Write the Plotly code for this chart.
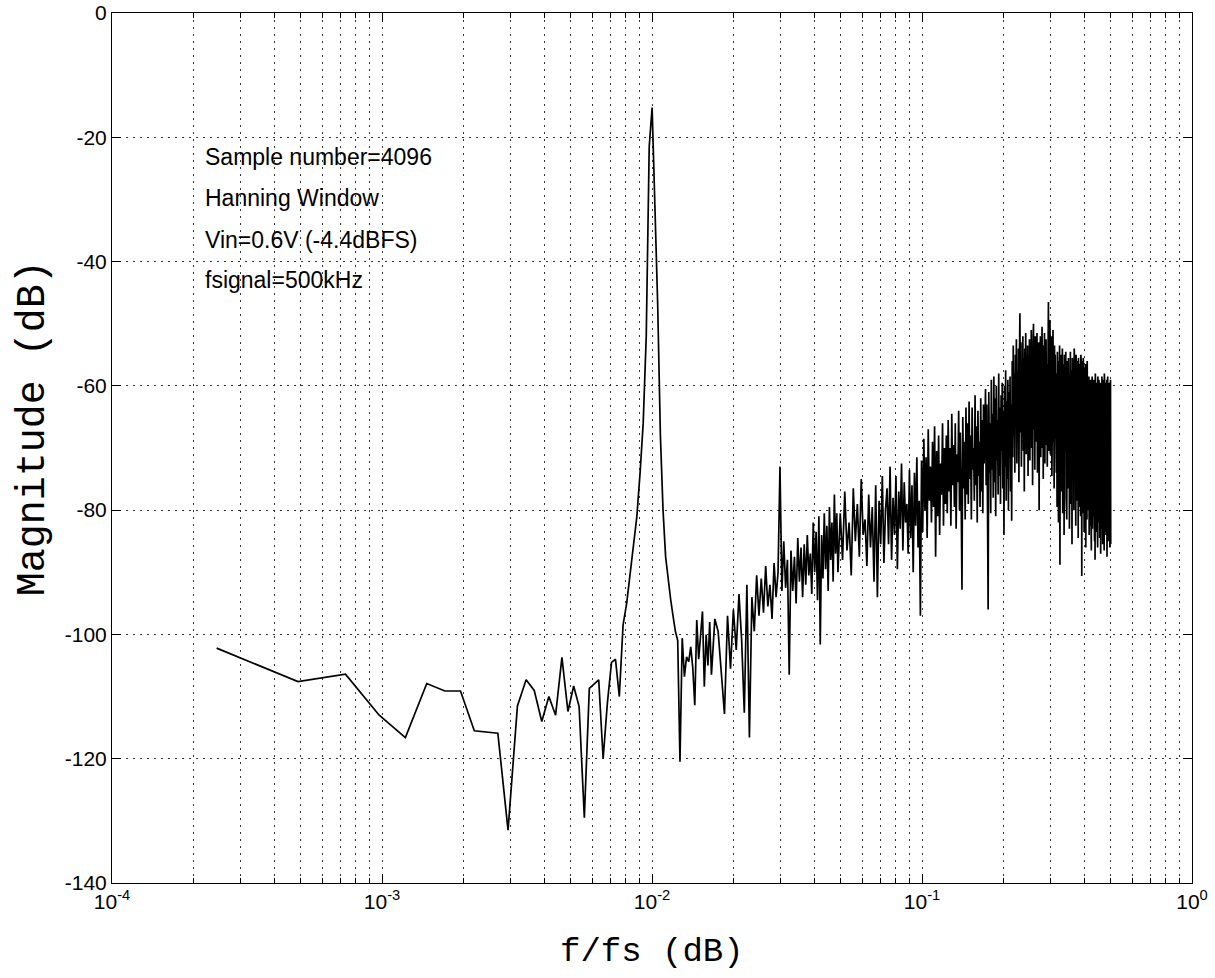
import plotly.graph_objects as go

# ---------------- data ----------------
n_fft = 4096  # sample number

# FFT bin indices (k) of the plotted points; f/fs = k / n_fft
bins_low = list(range(1, 71))            # every bin up to k=70
bins_mid = list(range(72, 201, 2))       # every 2nd bin 72..200
bins_high = list(range(204, 2049, 4))    # every 4th bin 204..2048

mag_low = [
    -102.2, -107.6, -106.4, -113.0, -116.6, -107.9, -109.1, -109.1, -115.5, -115.7,
    -115.9, -131.5, -111.5, -107.3, -109.0, -114.0, -110.0, -113.0, -103.7, -112.4,
    -108.3, -111.6, -129.5, -108.7, -108.0, -107.3, -120.0, -111.0, -104.5, -104.0,
    -110.0, -98.5, -95.0, -90.0, -86.0, -81.0, -74.0, -66.0, -52.0, -21.5,
    -15.2, -30.0, -47.0, -68.0, -80.0, -87.5, -91.5, -94.3, -97.0, -99.5,
    -101.0, -120.5, -100.6, -106.8, -103.6, -104.4, -102.0, -105.4, -111.4, -97.7,
    -104.0, -99.8, -96.3, -108.4, -100.0, -105.0, -98.0, -106.5, -101.0, -97.5,
]

mag_mid = [
    -99.5, -107.0, -112.8, -97.0, -105.5, -96.0, -102.5, -93.5, -101.0, -112.6,
    -92.0, -116.6, -94.0, -99.5, -90.5, -97.0, -91.0, -96.5, -89.0, -95.5,
    -92.0, -97.5, -88.5, -94.0, -90.0, -73.0, -93.0, -85.0, -92.5, -88.0,
    -106.5, -86.5, -93.0, -87.5, -95.0, -84.5, -91.5, -86.0, -94.0, -85.5,
    -92.0, -84.0, -90.5, -87.0, -93.5, -82.0, -90.0, -83.5, -94.5, -81.0,
    -101.6, -84.0, -91.0, -80.5, -89.5, -82.5, -93.0, -79.5, -88.0, -82.0,
    -91.5, -77.5, -87.0, -80.5, -90.0,
]

mag_high = [
    # k 204..300
    -80.5, -88.0, -77.0, -86.5, -82.0, -90.5, -76.5, -85.0, -79.0, -87.5,
    -75.0, -84.0, -81.5, -89.0, -77.5, -86.0, -79.5, -91.5, -76.0, -94.0,
    -78.5, -85.5, -74.5, -88.5, -80.0,
    # k 304..400
    -76.5, -85.5, -73.0, -88.0, -78.0, -84.0, -74.5, -89.5, -77.0, -83.0,
    -72.5, -86.5, -75.5, -82.0, -79.0, -87.0, -73.5, -84.5, -76.0, -90.0,
    -74.0, -82.5, -71.5, -86.0, -78.5,
    # k 404..500
    -97.0, -72.0, -83.5, -68.5, -80.0, -71.5, -84.5, -67.0, -78.5, -73.0,
    -82.0, -69.0, -79.5, -66.5, -87.5, -70.5, -81.0, -68.0, -84.0, -72.5,
    -77.5, -66.0, -82.5, -70.0, -79.0,
    # k 504..600
    -68.0, -80.5, -65.5, -77.0, -70.0, -82.5, -64.5, -76.0, -69.5, -79.5,
    -66.0, -83.0, -71.0, -75.5, -64.0, -80.0, -67.5, -78.0, -92.8, -65.0,
    -76.5, -69.0, -81.5, -63.5, -77.5,
    # k 604..700
    -66.0, -79.0, -62.5, -75.0, -68.0, -81.5, -63.5, -73.5, -70.0, -78.5,
    -61.5, -76.0, -66.5, -82.0, -64.0, -74.5, -69.0, -79.5, -62.0, -77.0,
    -65.5, -80.5, -63.0, -72.5, -67.5,
    # k 704..880
    -60.5, -76.0, -63.0, -79.5, -96.0, -61.0, -74.0, -66.0, -80.5, -59.0,
    -73.5, -64.5, -78.0, -58.5, -75.5, -62.0, -81.0, -60.0, -72.0, -65.5,
    -77.5, -58.0, -74.5, -63.5, -79.0, -61.5, -70.5, -59.5, -76.5, -64.0,
    -84.0, -60.0, -73.0, -57.5, -78.5, -62.5, -75.0, -59.0, -80.0, -61.0,
    -71.5, -58.5, -77.0, -63.0, -81.7,
    # k 884..1280
    -56.0, -71.5, -53.5, -68.0, -58.0, -74.0, -55.0, -66.5, -52.5, -72.5,
    -57.5, -69.0, -54.0, -75.5, -56.5, -48.3, -67.5, -53.0, -73.0, -58.5,
    -65.0, -52.0, -70.5, -55.5, -77.0, -54.0, -68.5, -51.5, -71.0, -57.0,
    -66.0, -53.5, -74.5, -55.0, -69.5, -52.5, -72.0, -56.5, -64.5, -51.0,
    -70.0, -54.5, -76.0, -53.0, -50.0, -67.0, -55.5, -73.5, -52.0, -69.0,
    -57.0, -65.5, -51.5, -74.0, -54.0, -68.0, -53.0, -80.0, -55.5, -66.5,
    -52.0, -71.5, -56.0, -64.0, -50.5, -70.0, -54.5, -75.0, -53.5, -67.5,
    -51.5, -72.5, -55.0, -65.0, -52.5, -69.5, -56.5, -73.0, -53.0, -66.0,
    -46.5, -70.5, -54.0, -63.5, -49.4, -71.0, -55.5, -67.0, -52.0, -74.5,
    -54.5, -65.5, -51.0, -69.0, -56.0, -76.5, -53.5, -68.5, -55.0, -72.0,
    # k 1284..1680
    -55.5, -74.0, -58.0, -79.5, -54.5, -71.0, -57.0, -82.0, -56.0, -70.0,
    -53.5, -88.8, -58.5, -73.5, -55.0, -77.0, -57.5, -69.5, -54.0, -80.5,
    -59.0, -72.0, -56.5, -84.0, -55.0, -75.5, -58.0, -70.5, -54.5, -78.0,
    -57.5, -81.5, -56.0, -73.0, -59.5, -76.5, -55.5, -69.0, -58.5, -83.0,
    -56.0, -74.5, -54.5, -79.0, -57.5, -71.5, -59.0, -85.5, -55.5, -76.0,
    -58.0, -72.5, -56.5, -80.0, -54.0, -77.5, -57.0, -70.0, -59.5, -82.5,
    -55.0, -75.0, -58.5, -78.5, -56.0, -73.5, -57.5, -84.5, -55.5, -71.0,
    -59.0, -79.5, -56.5, -74.0, -58.0, -81.0, -55.0, -76.5, -57.5, -90.6,
    -56.0, -72.5, -58.5, -80.5, -55.5, -77.0, -59.5, -83.5, -57.0, -74.5,
    -58.0, -79.0, -56.5, -86.0, -57.5, -73.0, -59.0, -81.5, -56.0, -75.5,
    # k 1684..2048
    -59.5, -80.0, -61.0, -77.5, -58.5, -84.0, -60.5, -75.0, -62.0, -82.5,
    -59.0, -78.0, -61.5, -86.5, -60.0, -76.5, -58.5, -83.0, -62.5, -79.5,
    -60.0, -81.0, -59.0, -77.0, -61.0, -85.0, -60.5, -88.0, -58.0, -78.5,
    -61.5, -83.5, -59.5, -76.0, -62.0, -80.5, -60.0, -86.0, -58.5, -79.0,
    -61.0, -82.0, -59.0, -77.5, -60.5, -84.5, -62.5, -78.0, -59.5, -87.0,
    -60.0, -80.0, -61.5, -83.0, -58.5, -76.5, -60.5, -85.5, -59.0, -81.5,
    -62.0, -78.5, -60.0, -86.5, -58.0, -79.5, -61.0, -83.5, -59.5, -77.0,
    -60.5, -84.0, -62.0, -80.5, -59.0, -87.5, -61.5, -78.0, -58.5, -82.5,
    -60.0, -85.0, -61.0, -79.0, -59.5, -83.0, -62.5, -86.0, -60.0, -81.0,
    -59.0, -85.5,
]

x_tick_vals = [1e-4, 1e-3, 1e-2, 1e-1, 1e0]
x_tick_text = ["10<sup>-4</sup>", "10<sup>-3</sup>", "10<sup>-2</sup>",
               "10<sup>-1</sup>", "10<sup>0</sup>"]
x_minor_vals = [m * 10.0 ** e for e in (-4, -3, -2, -1) for m in range(2, 10)]
y_tick_vals = [-140, -120, -100, -80, -60, -40, -20, 0]
y_tick_text = ["-140", "-120", "-100", "-80", "-60", "-40", "-20", "0"]

info_lines = ["Sample number=4096", "Hanning Window",
              "Vin=0.6V (-4.4dBFS)", "fsignal=500kHz"]
info_y = [-23.2, -29.8, -36.5, -43.0]

x_title = "f/fs (dB)"
y_title = "Magnitude (dB)"

# ---------------- figure ----------------
bins = bins_low + bins_mid + bins_high
mags = mag_low + mag_mid + mag_high
assert len(bins) == len(mags), (len(bins), len(mags))
freq = [k / n_fft for k in bins]

fig = go.Figure()
fig.add_trace(go.Scatter(x=freq, y=mags, mode="lines",
                         line=dict(color="black", width=1.7),
                         showlegend=False, hoverinfo="x+y"))

grid_style = dict(showgrid=True, gridcolor="#333333", gridwidth=1, griddash="2px,5px")
tick_font = dict(family="Liberation Sans, Arial, sans-serif", size=21, color="black")

fig.update_xaxes(
    type="log", range=[-4, 0], automargin=False,
    tickmode="array", tickvals=x_tick_vals, ticktext=x_tick_text,
    ticks="inside", ticklen=9, tickcolor="black", tickwidth=1,
    showline=True, linecolor="black", linewidth=1, mirror="allticks",
    tickfont=tick_font, zeroline=False,
    minor=dict(tickmode="array", tickvals=x_minor_vals, ticks="inside",
               ticklen=5, tickcolor="black", **grid_style),
    **grid_style,
)
fig.update_yaxes(
    range=[-140, 0], automargin=False,
    tickmode="array", tickvals=y_tick_vals, ticktext=y_tick_text,
    ticks="inside", ticklen=9, tickcolor="black", tickwidth=1,
    showline=True, linecolor="black", linewidth=1, mirror="allticks",
    tickfont=tick_font, zeroline=False,
    **grid_style,
)

annotations = []
for txt, yv in zip(info_lines, info_y):
    annotations.append(dict(x=-3.663, y=yv, xref="x", yref="y", text=txt,
                            showarrow=False, xanchor="left", yanchor="middle",
                            font=dict(family="Liberation Sans, Arial, sans-serif",
                                      size=23, color="black")))
annotations.append(dict(x=0.5, y=-0.079, xref="paper", yref="paper", text=x_title,
                        showarrow=False, xanchor="center", yanchor="middle",
                        font=dict(family="Liberation Mono, Courier New, monospace",
                                  size=34, color="black")))
annotations.append(dict(x=-0.072, y=0.523, xref="paper", yref="paper", text=y_title,
                        showarrow=False, xanchor="center", yanchor="middle",
                        textangle=-90,
                        font=dict(family="Liberation Mono, Courier New, monospace",
                                  size=40, color="black")))

fig.update_layout(
    width=1215, height=978,
    margin=dict(l=112, r=23, t=13, b=95),
    paper_bgcolor="white", plot_bgcolor="white",
    annotations=annotations,
    showlegend=False,
)

fig.write_html("out.html",
               config={"displayModeBar": False},
               post_script="document.body.style.margin='0';"
                           "document.body.style.overflow='hidden';")
